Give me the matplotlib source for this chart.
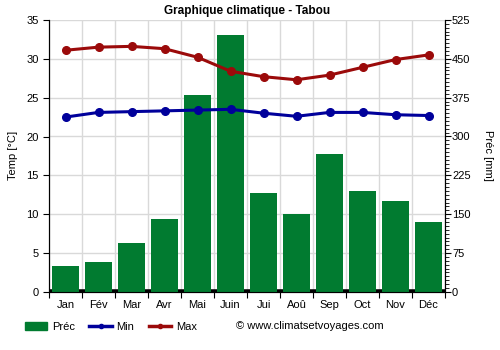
import matplotlib
matplotlib.use('Agg')
import matplotlib.pyplot as plt
from matplotlib.patches import Patch
from matplotlib.lines import Line2D

plt.rcParams['font.family'] = ['Liberation Sans', 'DejaVu Sans']

months = ['Jan', 'Fév', 'Mar', 'Avr', 'Mai', 'Juin', 'Jui', 'Aoû', 'Sep', 'Oct', 'Nov', 'Déc']
prec = [50, 57, 95, 141, 380, 495, 190, 150, 266, 195, 176, 135]
tmin = [22.5, 23.1, 23.2, 23.3, 23.4, 23.5, 23.0, 22.6, 23.1, 23.1, 22.8, 22.7]
tmax = [31.1, 31.5, 31.6, 31.3, 30.2, 28.4, 27.7, 27.3, 27.9, 28.9, 29.9, 30.5]

green = '#017b30'
blue = '#00009b'
red = '#9b0a0a'

fig = plt.figure(figsize=(5, 3.5), dpi=100)
ax = fig.add_axes([0.098, 0.166, 0.792, 0.777])  # precipitation (right scale)
ax2 = ax.twinx()  # temperatures (left scale), drawn on top

x = list(range(12))

# precipitation bars
ax.bar(x, prec, width=0.8, color=green, zorder=3)
ax.plot([-0.5, 11.5], [0, 0], color='black', lw=4, zorder=2)
ax.set_ylim(0, 525)
ax.set_xlim(-0.5, 11.5)
ax.yaxis.tick_right()
ax.yaxis.set_label_position('right')
ax.set_yticks(range(0, 526, 75))
ax.set_yticks([v * 7.5 for v in range(71)], minor=True)
ax.set_ylabel('Préc [mm]', rotation=270, labelpad=16, fontsize=8)
ax.set_axisbelow(True)
ax.grid(True, color='#d9d9d9', lw=1, zorder=0)

ax.set_xticks([i - 0.5 for i in range(13)])
ax.set_xticklabels([])
ax.set_xticks(x, minor=True)
ax.set_xticklabels(months, minor=True)
ax.tick_params(axis='x', which='minor', length=0, pad=6, labelsize=8)
ax.tick_params(axis='x', which='major', length=4)
ax.tick_params(axis='y', which='major', length=4, labelsize=8, pad=1)
ax.tick_params(axis='y', which='minor', length=3)

# temperature lines
ax2.plot(x, tmax, color=red, lw=2.2, marker='o', ms=5.5, zorder=5)
ax2.plot(x, tmin, color=blue, lw=2.2, marker='o', ms=5.5, zorder=5)
ax2.set_ylim(0, 35)
ax2.yaxis.tick_left()
ax2.yaxis.set_label_position('left')
ax2.set_yticks(range(0, 36, 5))
ax2.set_ylabel('Temp [°C]', fontsize=8, labelpad=6)
ax2.tick_params(axis='y', length=4, labelsize=8)

for a in (ax, ax2):
    a.spines['top'].set_visible(False)

ax.set_title('Graphique climatique - Tabou', fontsize=8.5, fontweight='bold', pad=4)

handles = [Patch(color=green, label='Préc'),
           Line2D([], [], color=blue, lw=2.5, marker='o', ms=3, label='Min'),
           Line2D([], [], color=red, lw=2.5, marker='o', ms=3, label='Max')]
fig.legend(handles=handles, loc='lower left', bbox_to_anchor=(0.045, 0.045), ncol=3,
           frameon=False, fontsize=8, handlelength=2.0, columnspacing=1.3,
           handletextpad=0.45, borderpad=0.2, borderaxespad=0)
fig.text(0.472, 0.068, '© www.climatsetvoyages.com', fontsize=8, va='center')

fig.savefig('out.png', dpi=100)
